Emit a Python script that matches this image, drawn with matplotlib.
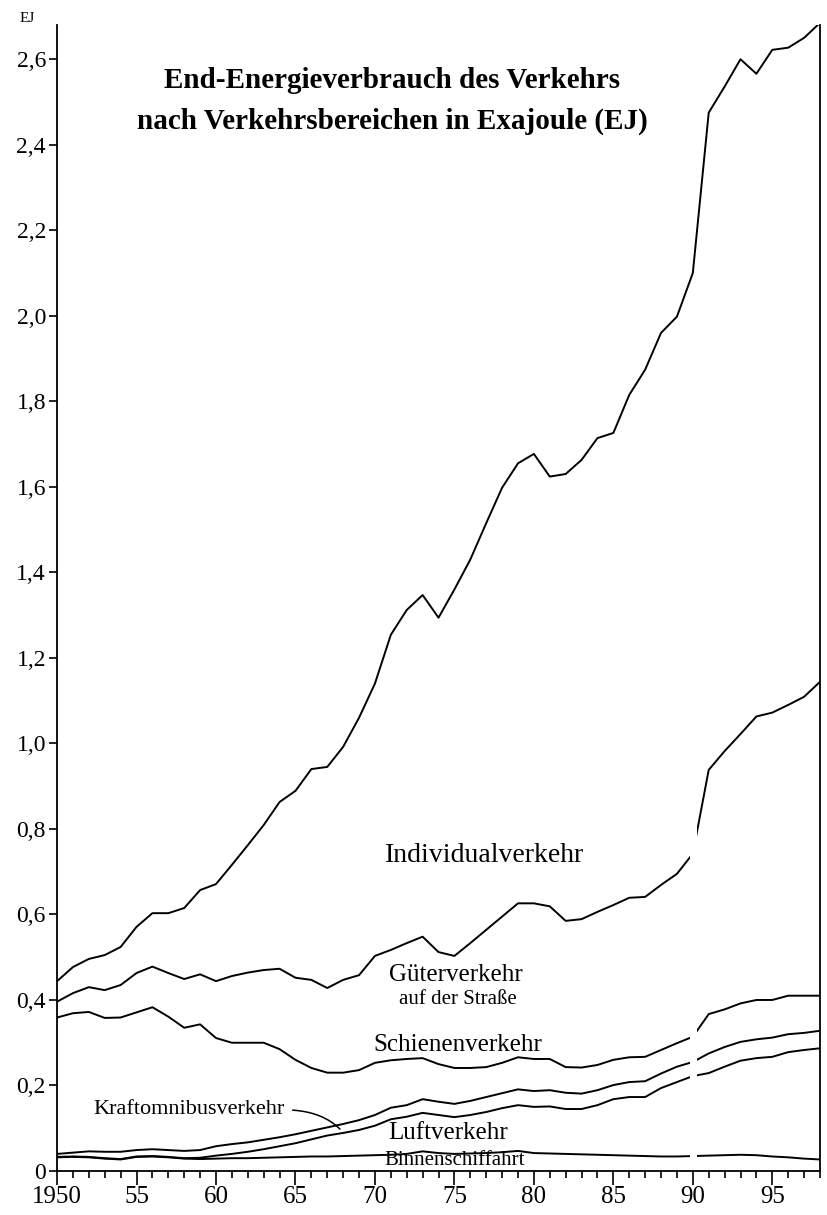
import numpy as np
import matplotlib
matplotlib.use("Agg")
import matplotlib.pyplot as plt
from matplotlib.ticker import MultipleLocator, FuncFormatter

plt.rcParams['font.family'] = ['Liberation Serif', 'DejaVu Serif']

jahre = list(range(1950, 1999))

# Obergrenzen der gestapelten Flaechen (kumuliert, EJ)
ober_binnen = [0.032, 0.033, 0.032, 0.029, 0.027, 0.033, 0.034, 0.032, 0.029, 0.028,
               0.029, 0.030, 0.030, 0.031, 0.032, 0.033, 0.034, 0.034, 0.035, 0.036,
               0.037, 0.038, 0.040, 0.046, 0.042, 0.040, 0.041, 0.042, 0.044, 0.047,
               0.042, 0.041, 0.040, 0.039, 0.038, 0.037, 0.036, 0.035, 0.034, 0.034,
               0.035, 0.036, 0.037, 0.038, 0.037, 0.034, 0.032, 0.029, 0.027]
ober_luft = [0.033, 0.034, 0.033, 0.030, 0.028, 0.034, 0.035, 0.033, 0.030, 0.031,
             0.036, 0.040, 0.045, 0.051, 0.058, 0.065, 0.074, 0.083, 0.089, 0.096,
             0.106, 0.121, 0.127, 0.136, 0.131, 0.126, 0.131, 0.138, 0.147, 0.154,
             0.150, 0.151, 0.145, 0.145, 0.154, 0.168, 0.173, 0.173, 0.194, 0.208,
             0.222, 0.229, 0.244, 0.258, 0.264, 0.267, 0.278, 0.283, 0.287]
ober_bus = [0.040, 0.043, 0.046, 0.045, 0.045, 0.049, 0.051, 0.049, 0.047, 0.049,
            0.058, 0.063, 0.067, 0.073, 0.079, 0.086, 0.094, 0.102, 0.110, 0.119,
            0.131, 0.148, 0.154, 0.168, 0.162, 0.157, 0.164, 0.173, 0.182, 0.191,
            0.187, 0.189, 0.183, 0.181, 0.189, 0.201, 0.208, 0.210, 0.228, 0.244,
            0.255, 0.275, 0.290, 0.302, 0.308, 0.312, 0.320, 0.323, 0.328]
ober_schiene = [0.359, 0.369, 0.372, 0.358, 0.359, 0.371, 0.383, 0.361, 0.335, 0.343,
                0.311, 0.300, 0.300, 0.300, 0.285, 0.260, 0.241, 0.230, 0.230, 0.236,
                0.253, 0.259, 0.262, 0.264, 0.250, 0.241, 0.241, 0.243, 0.253, 0.266,
                0.262, 0.262, 0.243, 0.242, 0.248, 0.260, 0.266, 0.267, 0.283, 0.299,
                0.314, 0.367, 0.378, 0.392, 0.400, 0.400, 0.410, 0.410, 0.410]
ober_gueter = [0.396, 0.416, 0.430, 0.423, 0.435, 0.463, 0.478, 0.463, 0.449, 0.460,
               0.444, 0.456, 0.464, 0.470, 0.473, 0.452, 0.447, 0.428, 0.447, 0.458,
               0.503, 0.517, 0.533, 0.548, 0.512, 0.503, 0.533, 0.564, 0.595, 0.626,
               0.626, 0.619, 0.585, 0.589, 0.606, 0.622, 0.639, 0.641, 0.669, 0.695,
               0.742, 0.938, 0.982, 1.022, 1.063, 1.072, 1.090, 1.109, 1.144]
ober_individual = [0.444, 0.477, 0.496, 0.505, 0.524, 0.571, 0.603, 0.603, 0.615, 0.657,
                   0.671, 0.716, 0.762, 0.809, 0.863, 0.889, 0.940, 0.945, 0.992, 1.060,
                   1.140, 1.254, 1.312, 1.347, 1.294, 1.360, 1.430, 1.515, 1.598, 1.655,
                   1.677, 1.624, 1.630, 1.663, 1.714, 1.726, 1.815, 1.874, 1.960, 1.998,
                   2.100, 2.475, 2.536, 2.600, 2.566, 2.622, 2.627, 2.650, 2.685]

y_ticks = [0, 0.2, 0.4, 0.6, 0.8, 1.0, 1.2, 1.4, 1.6, 1.8, 2.0, 2.2, 2.4, 2.6]
x_major = [1950, 1955, 1960, 1965, 1970, 1975, 1980, 1985, 1990, 1995]
x_labels = ['1950', '55', '60', '65', '70', '75', '80', '85', '90', '95']

fig = plt.figure(figsize=(8.27, 12.15), dpi=100)
ax = fig.add_axes([0.069, 0.0362, 0.9225, 0.9432])

lw = 1.4
for ober in [ober_binnen, ober_luft, ober_bus, ober_schiene, ober_gueter]:
    ax.plot(jahre, ober, color='black', lw=lw, zorder=2)
ax.plot(jahre, ober_individual, color='black', lw=lw, zorder=3)

# Bruch bei 1990 (alte / neue Bundeslaender)
ax.axvspan(1989.8, 1990.25, ymin=0.004, ymax=0.31, color='white', zorder=2.2, lw=0)

ax.set_xlim(1950, 1998)
ax.set_ylim(0, 2.68)

ax.spines['top'].set_visible(False)
for s in ['left', 'right', 'bottom']:
    ax.spines[s].set_linewidth(1.3)

ax.set_yticks(y_ticks)
ax.yaxis.set_major_formatter(FuncFormatter(lambda v, p: ('%.1f' % v).replace('.', ',') if v > 0 else '0'))
ax.set_xticks(x_major)
ax.set_xticklabels(x_labels)
ax.xaxis.set_minor_locator(MultipleLocator(1))
ax.tick_params(axis='x', which='major', length=10, width=1.2, labelsize=18, pad=1)
ax.tick_params(axis='x', which='minor', length=5, width=1.2)
ax.tick_params(axis='y', which='major', length=6, width=1.2, labelsize=17, pad=2)

fig.text(27 / 827, 1 - 18 / 1215, 'EJ', fontsize=11, ha='center', va='center')

fig.text(0.474, 0.934, 'End-Energieverbrauch des Verkehrs', fontsize=21,
         fontweight='bold', ha='center', va='center')
fig.text(0.474, 0.900, 'nach Verkehrsbereichen in Exajoule (EJ)', fontsize=21,
         fontweight='bold', ha='center', va='center')

fs = 18
ax.text(1976.9, 0.739, 'Individualverkehr', fontsize=20, ha='center', va='center')
ax.text(1975.1, 0.458, 'Güterverkehr', fontsize=fs, ha='center', va='center')
ax.text(1975.2, 0.400, 'auf der Straße', fontsize=15, ha='center', va='center')
ax.text(1975.2, 0.295, 'Schienenverkehr', fontsize=fs, ha='center', va='center')
ax.text(1974.6, 0.089, 'Luftverkehr', fontsize=fs, ha='center', va='center')
ax.text(1975.0, 0.024, 'Binnenschiffahrt', fontsize=15, ha='center', va='center', zorder=4)
ax.annotate('Kraftomnibusverkehr', xy=(1967.8, 0.098), xytext=(1964.3, 0.143),
            fontsize=16, ha='right', va='center',
            arrowprops=dict(arrowstyle='-', color='black', lw=1.1, relpos=(1, 0.5),
                            connectionstyle='angle3,angleA=0,angleB=135',
                            shrinkA=4, shrinkB=0))

fig.savefig('out.png', dpi=100, facecolor='white')
